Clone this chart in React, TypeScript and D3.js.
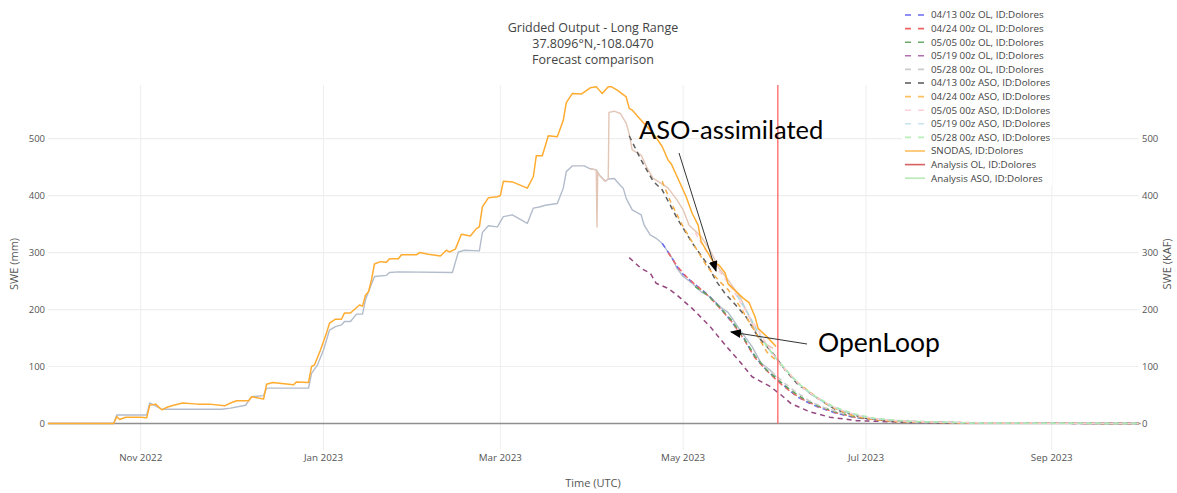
import React from 'react';
import * as d3 from 'd3';

type Pt = [string, number];

const W = 1177;
const H = 493;

// ---------- data ----------
const snodas: Pt[] = [
  ['2022-10-01', 0], ['2022-10-23', 0], ['2022-10-24', 12], ['2022-10-25', 7], ['2022-10-27', 11],
  ['2022-11-01', 11], ['2022-11-03', 10], ['2022-11-04', 32], ['2022-11-06', 34], ['2022-11-08', 24],
  ['2022-11-10', 29], ['2022-11-12', 32], ['2022-11-15', 36], ['2022-11-20', 34], ['2022-11-24', 34],
  ['2022-11-29', 31], ['2022-12-01', 36], ['2022-12-03', 40], ['2022-12-07', 40], ['2022-12-08', 47],
  ['2022-12-12', 43], ['2022-12-13', 69], ['2022-12-15', 72], ['2022-12-22', 68], ['2022-12-23', 73],
  ['2022-12-27', 72], ['2022-12-28', 100], ['2022-12-29', 103], ['2022-12-31', 129], ['2023-01-02', 159],
  ['2023-01-03', 176], ['2023-01-05', 183], ['2023-01-07', 183], ['2023-01-08', 194], ['2023-01-10', 194],
  ['2023-01-13', 208], ['2023-01-14', 206], ['2023-01-15', 225], ['2023-01-16', 231], ['2023-01-17', 252],
  ['2023-01-18', 280], ['2023-01-20', 284], ['2023-01-22', 283], ['2023-01-23', 289], ['2023-01-26', 289],
  ['2023-01-27', 296], ['2023-02-01', 296], ['2023-02-02', 300], ['2023-02-05', 297], ['2023-02-09', 294],
  ['2023-02-11', 304], ['2023-02-12', 301], ['2023-02-14', 306], ['2023-02-16', 332], ['2023-02-19', 329],
  ['2023-02-21', 342], ['2023-02-22', 345], ['2023-02-23', 380], ['2023-02-25', 396], ['2023-02-28', 398],
  ['2023-03-01', 400], ['2023-03-02', 425], ['2023-03-05', 424], ['2023-03-10', 413], ['2023-03-12', 433],
  ['2023-03-13', 470], ['2023-03-15', 470], ['2023-03-17', 505], ['2023-03-20', 503], ['2023-03-22', 532],
  ['2023-03-23', 563], ['2023-03-25', 579], ['2023-03-28', 578], ['2023-03-31', 589], ['2023-04-02', 591],
  ['2023-04-03', 585], ['2023-04-04', 579], ['2023-04-06', 591], ['2023-04-07', 591], ['2023-04-09', 585],
  ['2023-04-12', 573], ['2023-04-13', 553], ['2023-04-14', 550], ['2023-04-16', 538], ['2023-04-21', 509],
  ['2023-04-24', 486], ['2023-04-26', 462], ['2023-04-27', 456], ['2023-04-29', 433], ['2023-05-02', 398],
  ['2023-05-04', 369], ['2023-05-06', 348], ['2023-05-07', 319], ['2023-05-10', 293], ['2023-05-11', 284],
  ['2023-05-13', 278], ['2023-05-15', 264], ['2023-05-16', 245], ['2023-05-18', 235], ['2023-05-21', 220],
  ['2023-05-23', 212], ['2023-05-25', 187], ['2023-05-26', 167], ['2023-05-29', 152], ['2023-06-01', 135],
];

const analysisOL: Pt[] = [
  ['2022-10-01', 0], ['2022-10-23', 0], ['2022-10-24', 15], ['2022-11-03', 15], ['2022-11-04', 36],
  ['2022-11-08', 25], ['2022-11-28', 25], ['2022-12-01', 27], ['2022-12-06', 32], ['2022-12-08', 47],
  ['2022-12-12', 49], ['2022-12-13', 62], ['2022-12-27', 62], ['2022-12-28', 88], ['2022-12-30', 103],
  ['2023-01-01', 129], ['2023-01-03', 164], ['2023-01-05', 170], ['2023-01-07', 173], ['2023-01-08', 179],
  ['2023-01-10', 179], ['2023-01-12', 192], ['2023-01-14', 192], ['2023-01-15', 217], ['2023-01-16', 231],
  ['2023-01-18', 258], ['2023-01-22', 260], ['2023-01-23', 265], ['2023-01-26', 266], ['2023-02-13', 265],
  ['2023-02-15', 301], ['2023-02-17', 304], ['2023-02-22', 303], ['2023-02-23', 335], ['2023-02-25', 347],
  ['2023-02-28', 345], ['2023-03-02', 363], ['2023-03-05', 366], ['2023-03-10', 351], ['2023-03-12', 378],
  ['2023-03-14', 380], ['2023-03-16', 383], ['2023-03-20', 386], ['2023-03-22', 413], ['2023-03-23', 442],
  ['2023-03-25', 452], ['2023-03-29', 452], ['2023-03-31', 447], ['2023-04-02', 445], ['2023-04-03', 436],
  ['2023-04-05', 425], ['2023-04-06', 429], ['2023-04-08', 430], ['2023-04-10', 418], ['2023-04-11', 413],
  ['2023-04-12', 395], ['2023-04-14', 375], ['2023-04-17', 366], ['2023-04-18', 348], ['2023-04-20', 331],
  ['2023-04-22', 325], ['2023-04-24', 316], ['2023-04-27', 293], ['2023-04-29', 272], ['2023-05-01', 258],
  ['2023-05-04', 246], ['2023-05-07', 231], ['2023-05-10', 222], ['2023-05-14', 202], ['2023-05-16', 195],
  ['2023-05-20', 164], ['2023-05-24', 135], ['2023-05-27', 106], ['2023-05-30', 94], ['2023-06-01', 82],
];

const analysisASO: Pt[] = [
  ['2023-03-31', 447], ['2023-04-02T00:00:00Z', 445], ['2023-04-02T06:00:00Z', 345], ['2023-04-02T12:00:00Z', 441],
  ['2023-04-03', 436], ['2023-04-05', 425], ['2023-04-06T00:00:00Z', 429], ['2023-04-06T06:00:00Z', 546],
  ['2023-04-08', 548], ['2023-04-10', 544], ['2023-04-12', 527], ['2023-04-13', 508], ['2023-04-14', 480],
  ['2023-04-17', 471], ['2023-04-19', 448], ['2023-04-21', 430], ['2023-04-22', 427], ['2023-04-26', 413],
  ['2023-04-29', 392], ['2023-05-01', 375], ['2023-05-03', 348], ['2023-05-07', 328], ['2023-05-10', 304],
  ['2023-05-13', 272], ['2023-05-16', 252], ['2023-05-20', 222], ['2023-05-24', 176], ['2023-05-26', 152],
  ['2023-05-29', 138], ['2023-05-31', 132],
];

const fcOL0413: Pt[] = [
  ['2023-04-24', 316], ['2023-04-27', 293], ['2023-04-29', 275], ['2023-05-01', 262], ['2023-05-04', 248],
  ['2023-05-07', 236], ['2023-05-10', 222], ['2023-05-13', 205], ['2023-05-16', 186], ['2023-05-19', 166],
  ['2023-05-21', 152], ['2023-05-23', 133], ['2023-05-25', 117], ['2023-05-28', 98], ['2023-05-30', 88],
  ['2023-06-02', 74], ['2023-06-05', 60], ['2023-06-08', 47], ['2023-06-12', 36], ['2023-06-15', 29],
  ['2023-06-21', 18], ['2023-06-26', 12], ['2023-07-01', 8], ['2023-07-08', 5], ['2023-07-20', 2],
  ['2023-08-10', 1], ['2023-09-30', 0],
];
const fcOL0424: Pt[] = [
  ['2023-04-26', 300], ['2023-04-29', 276], ['2023-05-02', 258], ['2023-05-05', 244], ['2023-05-09', 226],
  ['2023-05-13', 204], ['2023-05-17', 180], ['2023-05-21', 150], ['2023-05-25', 115], ['2023-05-29', 92],
  ['2023-06-02', 72], ['2023-06-06', 55], ['2023-06-10', 42], ['2023-06-15', 30], ['2023-06-21', 19],
  ['2023-06-28', 10], ['2023-07-08', 5], ['2023-07-25', 2], ['2023-08-20', 0.5], ['2023-09-30', 0],
];
const fcOL0505: Pt[] = [
  ['2023-05-05', 240], ['2023-05-09', 226], ['2023-05-13', 205], ['2023-05-17', 182], ['2023-05-21', 152],
  ['2023-05-25', 118], ['2023-05-29', 93], ['2023-06-02', 75], ['2023-06-06', 58], ['2023-06-10', 44],
  ['2023-06-15', 31], ['2023-06-21', 20], ['2023-06-28', 11], ['2023-07-08', 5], ['2023-07-25', 2],
  ['2023-08-20', 0.5], ['2023-09-30', 0],
];
const fcOL0519: Pt[] = [
  ['2023-04-13', 291], ['2023-04-17', 272], ['2023-04-20', 264], ['2023-04-22', 246], ['2023-04-26', 237],
  ['2023-04-29', 225], ['2023-05-04', 202], ['2023-05-10', 170], ['2023-05-15', 138], ['2023-05-20', 108],
  ['2023-05-24', 82], ['2023-05-30', 65], ['2023-06-02', 53], ['2023-06-06', 35], ['2023-06-12', 21],
  ['2023-06-19', 11], ['2023-06-28', 5], ['2023-07-15', 2], ['2023-08-10', 0.5], ['2023-09-30', 0],
];
const fcOL0528: Pt[] = [
  ['2023-05-28', 102], ['2023-06-01', 84], ['2023-06-04', 70], ['2023-06-08', 54], ['2023-06-12', 40],
  ['2023-06-17', 28], ['2023-06-23', 18], ['2023-06-30', 10], ['2023-07-10', 5], ['2023-07-30', 2],
  ['2023-08-25', 0.5], ['2023-09-30', 0],
];
const fcASO0413: Pt[] = [
  ['2023-04-13', 505], ['2023-04-17', 462], ['2023-04-21', 425], ['2023-04-24', 410], ['2023-04-29', 360],
  ['2023-05-04', 317], ['2023-05-09', 280], ['2023-05-12', 250], ['2023-05-15', 228], ['2023-05-19', 205],
  ['2023-05-22', 187], ['2023-05-26', 152], ['2023-05-31', 123], ['2023-06-04', 94], ['2023-06-08', 70],
  ['2023-06-14', 47], ['2023-06-21', 24], ['2023-07-01', 9], ['2023-07-12', 3], ['2023-08-01', 1],
  ['2023-09-30', 0],
];
const fcASO0424: Pt[] = [
  ['2023-04-24', 425], ['2023-04-27', 387], ['2023-05-01', 345], ['2023-05-05', 310], ['2023-05-09', 275],
  ['2023-05-13', 250], ['2023-05-16', 235], ['2023-05-20', 205], ['2023-05-24', 170], ['2023-05-29', 125],
  ['2023-06-02', 106], ['2023-06-08', 73], ['2023-06-14', 48], ['2023-06-19', 30], ['2023-06-26', 15],
  ['2023-07-03', 7], ['2023-07-12', 3], ['2023-08-01', 1], ['2023-09-30', 0],
];
const fcASO0505: Pt[] = [
  ['2023-05-05', 335], ['2023-05-09', 300], ['2023-05-13', 268], ['2023-05-17', 240], ['2023-05-21', 205],
  ['2023-05-25', 172], ['2023-05-29', 138], ['2023-06-02', 106], ['2023-06-06', 84], ['2023-06-10', 62],
  ['2023-06-15', 44], ['2023-06-21', 27], ['2023-06-28', 14], ['2023-07-06', 7], ['2023-07-18', 3],
  ['2023-08-10', 1], ['2023-09-30', 0],
];
const fcASO0519: Pt[] = [
  ['2023-05-19', 225], ['2023-05-23', 190], ['2023-05-27', 150], ['2023-05-31', 120], ['2023-06-04', 96],
  ['2023-06-08', 72], ['2023-06-13', 50], ['2023-06-19', 31], ['2023-06-26', 17], ['2023-07-03', 9],
  ['2023-07-15', 3.5], ['2023-08-05', 1], ['2023-09-30', 0],
];
const fcASO0528: Pt[] = [
  ['2023-05-28', 142], ['2023-06-01', 115], ['2023-06-05', 90], ['2023-06-09', 68], ['2023-06-14', 48],
  ['2023-06-20', 30], ['2023-06-27', 17], ['2023-07-04', 9], ['2023-07-15', 4], ['2023-08-05', 1],
  ['2023-09-30', 0],
];

const legendLabels = [
  '04/13 00z OL, ID:Dolores', '04/24 00z OL, ID:Dolores', '05/05 00z OL, ID:Dolores',
  '05/19 00z OL, ID:Dolores', '05/28 00z OL, ID:Dolores', '04/13 00z ASO, ID:Dolores',
  '04/24 00z ASO, ID:Dolores', '05/05 00z ASO, ID:Dolores', '05/19 00z ASO, ID:Dolores',
  '05/28 00z ASO, ID:Dolores', 'SNODAS, ID:Dolores', 'Analysis OL, ID:Dolores', 'Analysis ASO, ID:Dolores',
];
const titleLines = ['Gridded Output - Long Range', '37.8096°N,-108.0470', 'Forecast comparison'];
const xTickDates = ['2022-11-01', '2023-01-01', '2023-03-01', '2023-05-01', '2023-07-01', '2023-09-01'];
const xTickLabels = ['Nov 2022', 'Jan 2023', 'Mar 2023', 'May 2023', 'Jul 2023', 'Sep 2023'];
const yTicks = [0, 100, 200, 300, 400, 500];
const markerDate = '2023-06-01T14:00:00Z';
const xDomain = ['2022-10-01', '2023-09-30'];
const yDomain = [-46.5, 594];

// ---------- styles ----------
const forecastSeries = [
  { data: fcOL0413, color: '#6a6af2' },
  { data: fcOL0424, color: '#f06464' },
  { data: fcOL0505, color: '#5aa55a' },
  { data: fcOL0519, color: '#94487f' },
  { data: fcOL0528, color: '#cccccc' },
  { data: fcASO0413, color: '#5e5e5e' },
  { data: fcASO0424, color: '#f5ad4a' },
  { data: fcASO0505, color: '#ffccd4' },
  { data: fcASO0519, color: '#a9d8e6' },
  { data: fcASO0528, color: '#b0ecb0' },
];
const legendColors = [
  '#6a6af2', '#f06464', '#6aaa6a', '#b070b0', '#cccccc', '#555555', '#ffc060', '#ffd0d8', '#c8e4ee', '#b8f0b8',
  '#ffc060', '#d86060', '#b8eab8',
];

const parse = (s: string) => new Date(s.length === 10 ? s + 'T00:00:00Z' : s);

export default function App() {
  const left = 47.8;
  const right = 1138.7;
  const top = 85;
  const bottom = 450;
  const x = d3.scaleUtc().domain(xDomain.map(parse)).range([left, right]);
  const y = d3.scaleLinear().domain(yDomain).range([bottom, top]);
  const line = d3.line<Pt>().x((d) => x(parse(d[0]))).y((d) => y(d[1]));
  const font = "'Open Sans', 'DejaVu Sans', sans-serif";
  const annFont = "Lato, 'Open Sans', sans-serif";
  const mx = x(parse(markerDate));

  return (
    <svg
      width={W}
      height={H}
      style={{ position: 'absolute', left: 0, top: 0, background: '#fff' }}
      fontFamily={font}
    >
      <defs>
        <marker id="arrowHead" viewBox="0 0 10 8" refX="9" refY="4" markerWidth="11" markerHeight="9" orient="auto" markerUnits="userSpaceOnUse">
          <path d="M0,0 L10,4 L0,8 Z" fill="#000" />
        </marker>
        <clipPath id="plotClip">
          <rect x={left} y={top} width={right - left + 2} height={bottom - top} />
        </clipPath>
      </defs>
      <rect width={W} height={H} fill="#fff" />

      {/* grid */}
      {xTickDates.map((d) => (
        <line key={d} x1={x(parse(d))} x2={x(parse(d))} y1={top} y2={bottom} stroke="#eeeeee" strokeWidth={1} />
      ))}
      {yTicks.filter((t) => t !== 0).map((t) => (
        <line key={t} x1={left} x2={right} y1={y(t)} y2={y(t)} stroke="#eeeeee" strokeWidth={1.2} />
      ))}
      <line x1={left} x2={right + 2} y1={y(0)} y2={y(0)} stroke="#8f8f8f" strokeWidth={1.3} />

      {/* legend background */}
      <rect x={902} y={4} width={150} height={182} fill="#fff" />

      <g clipPath="url(#plotClip)" fill="none" strokeLinejoin="round">
        <path d={line(analysisOL) || ''} stroke="#b3bccb" strokeWidth={1.4} />
        <path d={line(analysisASO) || ''} stroke="#e3c6b6" strokeWidth={1.4} />
        {forecastSeries.map((s, i) => (
          <path key={i} d={line(s.data) || ''} stroke={s.color} strokeWidth={1.5} strokeDasharray="5,4" />
        ))}
        <path d={line(snodas) || ''} stroke="#ffac30" strokeWidth={1.5} />
      </g>

      {/* marker line */}
      <line x1={mx} x2={mx} y1={top} y2={y(0)} stroke="#ff6f6f" strokeWidth={1.4} />

      {/* y axis labels */}
      {yTicks.map((t) => (
        <text key={'l' + t} x={45} y={y(t)} dy="0.35em" textAnchor="end" fontSize={9.5} fill="#555">{t}</text>
      ))}
      {yTicks.map((t) => (
        <text key={'r' + t} x={1142} y={y(t)} dy="0.35em" textAnchor="start" fontSize={9.5} fill="#555">{t}</text>
      ))}
      <text transform={`translate(18,${y(280)}) rotate(-90)`} textAnchor="middle" fontSize={11} fill="#555">SWE (mm)</text>
      <text transform={`translate(1171,${y(280)}) rotate(-90)`} textAnchor="middle" fontSize={11} fill="#555">SWE (KAF)</text>

      {/* x axis labels */}
      {xTickDates.map((d, i) => (
        <text key={d} x={x(parse(d))} y={461} textAnchor="middle" fontSize={9.8} fill="#555">{xTickLabels[i]}</text>
      ))}
      <text x={593} y={487} textAnchor="middle" fontSize={11} fill="#555">Time (UTC)</text>

      {/* title */}
      {titleLines.map((t, i) => (
        <text key={t} x={593} y={31.5 + i * 16} textAnchor="middle" fontSize={12.5} fill="#444">{t}</text>
      ))}

      {/* legend */}
      {legendLabels.map((lab, i) => {
        const ly = 15 + i * 13.6;
        const dashed = i < 10;
        return (
          <g key={lab}>
            <line x1={905} x2={925} y1={ly} y2={ly} stroke={legendColors[i]} strokeWidth={1.6}
              strokeDasharray={dashed ? '6,7' : undefined} />
            <text x={931} y={ly} dy="0.35em" fontSize={9.8} fill="#444">{lab}</text>
          </g>
        );
      })}

      {/* annotations */}
      <line x1={679} y1={153} x2={716} y2={271} stroke="#333" strokeWidth={1} markerEnd="url(#arrowHead)" />
      <line x1={807} y1={344} x2={731} y2={332} stroke="#333" strokeWidth={1} markerEnd="url(#arrowHead)" />
      <text x={639} y={139} fontSize={25.5} fontFamily={annFont} fill="#000">ASO-assimilated</text>
      <text x={818} y={352} fontSize={26.5} fontFamily={annFont} fill="#000">OpenLoop</text>
    </svg>
  );
}
